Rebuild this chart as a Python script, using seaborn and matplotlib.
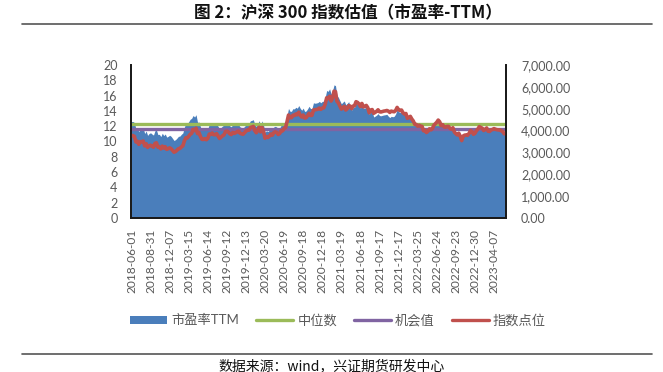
import matplotlib
matplotlib.use("Agg")
import matplotlib.pyplot as plt
import pandas as pd
import seaborn as sns
from matplotlib.lines import Line2D
from matplotlib.patches import Patch

# weekly PE-TTM (left axis) and CSI 300 close (right axis)
pe_ttm = [
    12.61, 12.61, 12.47, 11.64, 11.74, 11.27, 11.67, 11.67, 11.77, 11.04,
    11.37, 10.80, 11.04, 11.14, 10.97, 10.84, 11.40, 11.51, 10.90, 10.94,
    10.64, 11.08, 10.77, 10.98, 10.57, 10.67, 10.81, 10.67, 10.40, 10.13,
    10.24, 10.44, 10.67, 10.71, 10.94, 11.11, 11.85, 12.36, 12.32, 12.59,
    12.90, 13.03, 13.40, 13.20, 13.50, 12.50, 12.55, 11.90, 11.50, 11.47,
    11.60, 11.44, 11.63, 12.27, 12.24, 12.43, 12.17, 12.17, 12.33, 11.98,
    11.63, 11.82, 12.01, 12.14, 12.34, 12.40, 12.31, 12.03, 11.92, 12.22,
    12.09, 12.19, 12.10, 12.18, 11.90, 11.81, 11.75, 11.96, 12.18, 12.33,
    12.33, 12.70, 12.76, 12.85, 12.27, 11.96, 12.27, 12.73, 12.09, 12.70,
    12.12, 11.20, 11.41, 11.29, 11.50, 11.78, 11.63, 11.90, 11.98, 11.88,
    11.61, 11.76, 12.13, 12.13, 12.46, 12.58, 13.40, 14.32, 13.95, 13.95,
    14.29, 14.26, 14.47, 14.35, 14.70, 14.33, 14.09, 14.36, 13.93, 13.99,
    14.27, 14.60, 14.30, 14.33, 15.06, 15.00, 15.03, 15.09, 15.24, 15.06,
    15.24, 15.27, 15.79, 16.67, 16.55, 16.88, 16.21, 16.61, 17.40, 17.30,
    16.00, 15.76, 15.34, 14.92, 15.13, 15.30, 14.80, 14.98, 15.20, 14.60,
    14.10, 14.42, 14.48, 14.99, 14.90, 14.70, 14.37, 14.76, 14.31, 14.37,
    14.51, 14.23, 13.55, 13.92, 13.97, 13.20, 13.31, 13.44, 13.64, 13.39,
    13.36, 13.42, 13.47, 13.50, 13.55, 13.30, 13.13, 13.29, 13.23, 13.30,
    13.60, 14.20, 13.90, 13.80, 13.90, 13.74, 13.60, 13.66, 13.03, 13.11,
    13.29, 12.94, 12.69, 12.26, 12.23, 12.00, 12.11, 12.00, 11.97, 11.40,
    11.49, 11.17, 11.34, 11.66, 11.51, 11.69, 12.11, 12.31, 12.51, 12.80,
    12.57, 12.06, 12.20, 11.91, 11.86, 11.97, 11.97, 11.71, 11.60, 11.80,
    11.39, 11.19, 11.01, 11.25, 10.84, 10.26, 10.87, 10.99, 11.01, 10.96,
    11.22, 11.59, 11.45, 11.10, 11.22, 11.57, 11.80, 12.12, 12.00, 11.91,
    11.59, 11.77, 11.94, 11.51, 11.48, 11.68, 11.74, 11.85, 11.77, 11.71,
    11.68, 11.68, 11.57, 11.45, 11.16, 11.19,
]

index_pts = [
    3770, 3770, 3730, 3480, 3510, 3370, 3490, 3490, 3520, 3300,
    3400, 3230, 3300, 3330, 3280, 3240, 3410, 3440, 3240, 3250,
    3160, 3290, 3200, 3260, 3140, 3170, 3210, 3170, 3090, 3010,
    3040, 3100, 3170, 3180, 3250, 3300, 3520, 3670, 3660, 3740,
    3830, 3870, 4060, 4000, 4110, 3860, 3910, 3730, 3600, 3590,
    3630, 3580, 3640, 3840, 3830, 3890, 3810, 3810, 3860, 3750,
    3640, 3700, 3760, 3800, 3950, 3970, 3940, 3850, 3815, 3910,
    3870, 3900, 3950, 3970, 3880, 3850, 3830, 3900, 3970, 4020,
    4020, 4140, 4160, 4190, 4000, 3900, 4000, 4150, 3940, 4140,
    3950, 3650, 3720, 3680, 3750, 3840, 3790, 3910, 3940, 3910,
    3820, 3870, 3990, 3990, 4100, 4140, 4410, 4710, 4590, 4590,
    4700, 4690, 4760, 4720, 4840, 4700, 4620, 4710, 4570, 4590,
    4680, 4790, 4690, 4700, 4940, 4950, 4960, 4980, 5030, 4970,
    5030, 5040, 5210, 5500, 5460, 5570, 5350, 5480, 5800, 5780,
    5340, 5260, 5120, 4980, 5050, 5110, 4940, 5000, 5140, 5120,
    5000, 5120, 5140, 5320, 5290, 5220, 5100, 5240, 5080, 5100,
    5150, 5050, 4810, 4940, 4960, 4790, 4830, 4880, 4950, 4860,
    4850, 4870, 4890, 4900, 4920, 4890, 4830, 4890, 4870, 4860,
    4920, 5060, 4950, 4920, 4940, 4810, 4760, 4780, 4560, 4590,
    4650, 4530, 4440, 4290, 4280, 4200, 4240, 4200, 4190, 3990,
    4020, 3910, 3970, 4080, 4030, 4090, 4240, 4310, 4380, 4480,
    4400, 4220, 4270, 4170, 4150, 4190, 4190, 4100, 4060, 4130,
    3930, 3860, 3800, 3880, 3740, 3540, 3750, 3790, 3800, 3780,
    3870, 4000, 3950, 3830, 3870, 3990, 4070, 4180, 4140, 4110,
    4000, 4060, 4120, 3970, 3960, 4030, 4050, 4090, 4060, 4040,
    4030, 4030, 3990, 3950, 3850, 3860,
]

median_pe = 12.3
chance_pe = 11.6

tick_labels = [
    "2018-06-01", "2018-08-31", "2018-12-07", "2019-03-15", "2019-06-14",
    "2019-09-12", "2019-12-13", "2020-03-20", "2020-06-19", "2020-09-18",
    "2020-12-18", "2021-03-19", "2021-06-18", "2021-09-17", "2021-12-17",
    "2022-03-25", "2022-06-24", "2022-09-23", "2022-12-30", "2023-04-07",
]
tick_step = 13

legend_labels = ["市盈率TTM", "中位数", "机会值", "指数点位"]

BLUE = "#4a7ebb"
GREEN = "#9bbb59"
PURPLE = "#8064a2"
RED = "#c0504d"
GREY = "#595959"

sns.set_style("white")
plt.rcParams["font.family"] = ["Lato", "Noto Sans CJK SC", "DejaVu Sans"]

df = pd.DataFrame({"week": range(len(pe_ttm)), "pe": pe_ttm, "index": index_pts})
df["median"] = median_pe
df["chance"] = chance_pe

fig = plt.figure(figsize=(6.63, 3.72), dpi=100)
ax = fig.add_axes([0.1983, 0.414, 0.5645, 0.4113])
ax2 = ax.twinx()

ax.fill_between(df["week"], df["pe"], color=BLUE, lw=0, zorder=1)
sns.lineplot(data=df, x="week", y="median", ax=ax, color=GREEN, lw=2.4, zorder=2)
sns.lineplot(data=df, x="week", y="chance", ax=ax, color=PURPLE, lw=2.4, zorder=2)
sns.lineplot(data=df, x="week", y="index", ax=ax2, color=RED, lw=2.6)

ax.set_xlim(0, len(df) - 1)
ax.set_ylim(0, 20)
ax.set_yticks(range(0, 21, 2))
ax2.set_ylim(0, 7000)
ax2.set_yticks(range(0, 7001, 1000))
ax2.set_yticklabels([f"{v:,.2f}" for v in range(0, 7001, 1000)])

ax.set_xticks(range(0, len(df), tick_step))
ax.set_xticklabels(tick_labels, rotation=90)

for a in (ax, ax2):
    a.set_xlabel("")
    a.set_ylabel("")
    a.spines["top"].set_visible(False)
    for s in ("left", "right", "bottom"):
        a.spines[s].set_color("#1a1a1a")
        a.spines[s].set_linewidth(1.3)
    a.tick_params(length=0, colors=GREY, labelsize=9)
ax.tick_params(axis="y", pad=10)
ax.tick_params(axis="x", pad=8, labelsize=8.6)
ax2.tick_params(axis="y", pad=11)

handles = [
    Patch(facecolor=BLUE, edgecolor="none"),
    Line2D([], [], color=GREEN, lw=2.4),
    Line2D([], [], color=PURPLE, lw=2.4),
    Line2D([], [], color=RED, lw=2.4),
]
fig.legend(handles, legend_labels, loc="center", bbox_to_anchor=(0.51, 1 - 320 / 372),
           ncol=4, frameon=False, fontsize=9.5, labelcolor=GREY,
           handlelength=2.8, handleheight=0.55, handletextpad=0.3, columnspacing=1.3)

fig.text(0.525, 1 - 13 / 372, "图 2：沪深 300 指数估值（市盈率-TTM）", ha="center", va="center",
         fontsize=12, fontweight="bold", color="#111111",
         family=["Noto Sans CJK SC", "DejaVu Sans"])
fig.text(0.5, 1 - 366 / 372, "数据来源：wind，兴证期货研发中心", ha="center", va="center",
         fontsize=10, color="#111111", family=["Noto Sans CJK SC", "DejaVu Sans"])
for y in (24, 354):
    fig.add_artist(Line2D([22 / 663, 652 / 663], [1 - y / 372, 1 - y / 372],
                          transform=fig.transFigure, color="#555555", lw=1.2))

fig.savefig("out.png", dpi=100)
